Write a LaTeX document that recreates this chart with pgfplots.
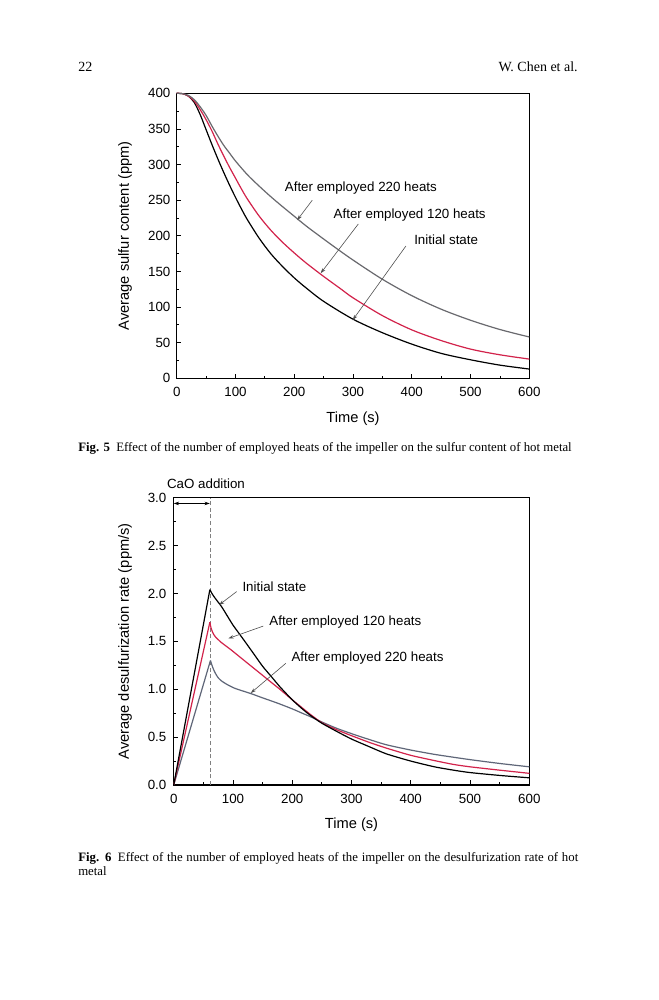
\documentclass[border=0pt]{standalone}
\usepackage{pgfplots}
\pgfplotsset{compat=1.18}
\usepackage{fontspec}
\setmainfont{Liberation Serif}
\newfontfamily\arial{Liberation Sans}
\usetikzlibrary{arrows.meta}
\definecolor{cred}{RGB}{210,35,75}
\definecolor{cgray}{RGB}{105,105,110}
\definecolor{cgrayb}{RGB}{95,102,120}
\definecolor{arrgray}{RGB}{80,80,80}

\pgfplotstableread{
t s
0 400
10 399.5
20 396
30 387
40 370
50 349
60 328
70 308
80 289
90 271
100 254
110 238
120 223
140 197
160 175
180 157
200 141
220 127
250 108
300 83
350 64
400 48
450 35
500 26
550 18.5
600 13
}\sinit
\pgfplotstableread{
t s
0 400
10 399.5
20 396
30 389
40 377
50 363
60 347
70 329
80 312
90 296
100 281
110 266
120 252
140 228
160 208
180 191
200 176
220 162
250 143
280 125
300 113
350 88
400 68
450 53
500 41
550 33
600 27
}\soneTwenty
\pgfplotstableread{
t s
0 400
10 399.5
20 397
30 391
40 381
50 369
60 354
70 340
80 327
90 316
100 305
120 286
140 270
160 255
180 241
200 227.5
220 214
250 195.5
275 180.5
300 166
350 139
400 116
450 97
500 81.5
550 68.5
600 58
}\stwoTwenty

\pgfplotstableread{
t r
0 0
61 2.04
}\rinitA
\pgfplotstableread{
t r
61 2.04
65 1.995
70 1.95
81 1.86
90 1.77
100 1.67
110 1.585
120 1.50
135 1.37
150 1.24
165 1.13
180 1.02
200 0.89
216 0.80
230 0.73
250 0.645
275 0.56
300 0.48
330 0.40
359 0.325
400 0.25
440 0.19
472 0.155
500 0.13
550 0.10
600 0.075
}\rinitB
\pgfplotstableread{
t r
0 0
61 1.70
}\roneTwentyA
\pgfplotstableread{
t r
61 1.70
63 1.64
66 1.59
70 1.55
80 1.49
95 1.42
110 1.345
120 1.295
135 1.22
150 1.145
165 1.07
180 0.995
200 0.89
216 0.81
230 0.74
250 0.65
275 0.577
300 0.515
330 0.445
359 0.385
400 0.31
440 0.255
472 0.215
500 0.19
550 0.155
600 0.122
}\roneTwentyB
\pgfplotstableread{
t r
0 0
62 1.30
}\rtwoTwentyA
\pgfplotstableread{
t r
62 1.30
64 1.26
67 1.21
70 1.17
75 1.12
81 1.085
90 1.05
103 1.01
115 0.985
131 0.953
150 0.91
176 0.853
200 0.795
216 0.752
230 0.715
250 0.658
275 0.592
303 0.53
330 0.475
359 0.42
400 0.365
440 0.32
472 0.29
500 0.265
550 0.225
600 0.19
}\rtwoTwentyB

\pgfplotsset{
  myaxis/.style={
    scale only axis, clip=false,
    axis line style={line width=0.9pt},
    tick align=inside, tick pos=left,
    major tick length=3.5pt, minor tick length=2pt,
    every tick/.style={black, line width=0.6pt},
    xmin=0, xmax=600, xtick={0,100,...,600}, minor x tick num=1,
    font=\arial\fontsize{10}{12}\selectfont,
    tick label style={font=\arial\fontsize{10}{12}\selectfont},
    xticklabel style={yshift=-3.2pt},
    label style={font=\arial\fontsize{11}{13}\selectfont},
    /pgf/number format/assume math mode=true,
    xlabel={Time (s)},
    every axis plot/.append style={line width=0.9pt},
  }
}

\begin{document}
\begin{tikzpicture}
\useasboundingbox (0,0) rectangle (494.25pt,-750pt);
\fill[white] (0,0) rectangle (494.25pt,-750pt);

% header
\node[anchor=base west, inner sep=0, font=\fontsize{10.5}{12}\selectfont] at (58.5pt,-53.25pt) {22};
\node[anchor=base east, inner sep=0, font=\fontsize{10.5}{12}\selectfont] at (433.5pt,-53.25pt) {W. Chen et al.};

% Fig 5
\begin{axis}[myaxis,
  at={(132.53pt,-283.73pt)}, anchor=south west,
  width=264.45pt, height=213.75pt,
  ymin=0, ymax=400, ytick={0,50,...,400}, minor y tick num=1,
  yticklabel style={xshift=-1.2pt},
  ylabel={Average sulfur content (ppm)},
  xlabel style={at={(axis description cs:0.5,-0.14)}, anchor=center},
  ylabel style={at={(axis description cs:-0.1466,0.5)}, anchor=center},
]
\addplot[black, smooth] table[x=t,y=s] {\sinit};
\addplot[cred, smooth] table[x=t,y=s] {\soneTwenty};
\addplot[cgray, smooth] table[x=t,y=s] {\stwoTwenty};
\node at (axis cs:313.4,266.7) {After employed 220 heats};
\node at (axis cs:396.5,229) {After employed 120 heats};
\node at (axis cs:458.5,195) {Initial state};
\draw[-{Stealth[length=4pt,width=2.6pt]}, line width=0.45pt, arrgray] (axis cs:230.7,250) -- (axis cs:205,222);
\draw[-{Stealth[length=4pt,width=2.6pt]}, line width=0.45pt, arrgray] (axis cs:309,216.6) -- (axis cs:245,147.4);
\draw[-{Stealth[length=4pt,width=2.6pt]}, line width=0.45pt, arrgray] (axis cs:390,185.7) -- (axis cs:299.5,81.8);
\end{axis}

\node[anchor=base west, inner sep=0, font=\fontsize{9.6}{11}\selectfont] at (58.5pt,-338.6pt) {\textbf{Fig. 5}\enspace Effect of the number of employed heats of the impeller on the sulfur content of hot metal};

% Fig 6
\begin{axis}[myaxis,
  at={(130.28pt,-588.75pt)}, anchor=south west,
  width=266.7pt, height=215.48pt,
  ymin=0, ymax=3, ytick={0,0.5,...,3}, minor y tick num=1,
  yticklabel style={xshift=-2pt, /pgf/number format/.cd, fixed, fixed zerofill, precision=1},
  ylabel={Average desulfurization rate (ppm/s)},
  xlabel style={at={(axis description cs:0.5,-0.139)}, anchor=center},
  ylabel style={at={(axis description cs:-0.137,0.5)}, anchor=center},
]
\draw[densely dashed, line width=0.4pt, gray] (axis cs:61,0) -- (axis cs:61,3);
\addplot[cgrayb] table[x=t,y=r] {\rtwoTwentyA};
\addplot[cgrayb, smooth, tension=0.4] table[x=t,y=r] {\rtwoTwentyB};
\addplot[cred] table[x=t,y=r] {\roneTwentyA};
\addplot[cred, smooth, tension=0.4] table[x=t,y=r] {\roneTwentyB};
\addplot[black] table[x=t,y=r] {\rinitA};
\addplot[black, smooth, tension=0.4] table[x=t,y=r] {\rinitB};
\draw[{Stealth[length=4pt,width=2.6pt]}-{Stealth[length=4pt,width=2.6pt]}, line width=0.5pt] (axis cs:0,2.94) -- (axis cs:61,2.94);
\node at (axis cs:54.5,3.15) {CaO addition};
\node at (axis cs:169.9,2.07) {Initial state};
\node at (axis cs:289.7,1.706) {After employed 120 heats};
\node at (axis cs:327,1.33) {After employed 220 heats};
\draw[-{Stealth[length=4pt,width=2.6pt]}, line width=0.45pt, arrgray] (axis cs:106.3,2.02) -- (axis cs:76.5,1.88);
\draw[-{Stealth[length=4pt,width=2.6pt]}, line width=0.45pt, arrgray] (axis cs:151.3,1.66) -- (axis cs:92.2,1.53);
\draw[-{Stealth[length=4pt,width=2.6pt]}, line width=0.45pt, arrgray] (axis cs:189,1.27) -- (axis cs:130,0.96);
\end{axis}

\node[anchor=base west, inner sep=0, font=\fontsize{9.6}{10.8}\selectfont] at (58.5pt,-645.75pt) {\begin{minipage}[t]{375pt}\textbf{Fig. 6}\enspace Effect of the number of employed heats of the impeller on the desulfurization rate of hot\linebreak metal\end{minipage}};
\end{tikzpicture}
\end{document}
